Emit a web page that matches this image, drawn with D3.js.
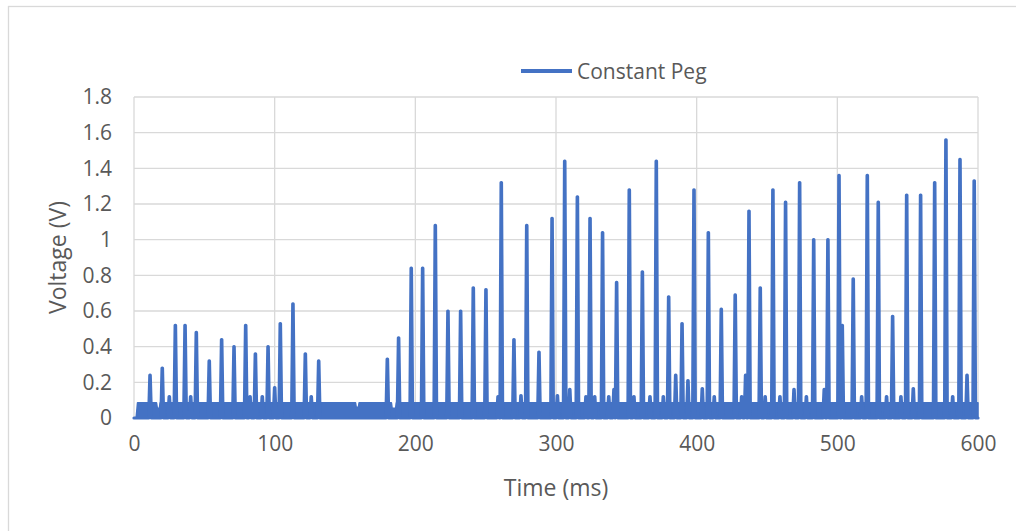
<!DOCTYPE html>
<html><head><meta charset="utf-8">
<script src="https://cdn.jsdelivr.net/npm/d3@7"></script>
<style>body{margin:0;background:#fff}svg{display:block}</style>
</head><body>
<svg id="c" width="1016" height="531"></svg>
<script>
// ---- data ----
const seriesName = "Constant Peg";
const xTickValues = [0, 100, 200, 300, 400, 500, 600];
const yTickValues = [0, 0.2, 0.4, 0.6, 0.8, 1, 1.2, 1.4, 1.6, 1.8];
const yTickLabels = ["0", "0.2", "0.4", "0.6", "0.8", "1", "1.2", "1.4", "1.6", "1.8"];
const xTitle = "Time (ms)";
const yTitle = "Voltage (V)";

// spike times (ms) and peak voltages (V)
const peakTimes = [
  11.4, 20.1, 25.1, 29.4, 36.3, 40.3, 44.3, 53.5, 62.3, 71.1, 79.4, 82.5, 86.3, 91.2, 95.3, 100, 104, 113, 121.8, 126, 131.3,
  180.1, 188.1, 197.1, 205.2, 214.2, 223.2, 232.2, 241.2, 250.2, 258.8, 261.1, 270.1, 275.1, 279.2, 287.9, 297.2, 301, 306.2, 309.8,
  315.2, 321.3, 324.2, 327.5, 333.1, 337.5, 341.2, 343.1, 352.1, 355.4, 361.4, 366.8, 371.3, 376.3, 380.1, 385.1, 389.6, 393.8,
  398.1, 404, 408.3, 412.5, 417.5, 427.4, 432, 434.8, 437.2, 445.2, 448.7, 454.2, 459.2, 463.2,
  469.2, 473.2, 478, 483.2, 490.7, 493.3, 501.2, 503.5, 511.3, 517.3, 521.3, 529.1, 535, 539.3, 545.2, 549.3, 554, 559.2,
  569.2, 577.2, 582, 587.2, 592.2, 597.3
];
const peakValues = [
  0.24, 0.28, 0.12, 0.52, 0.52, 0.12, 0.48, 0.32, 0.44, 0.40, 0.52, 0.12, 0.36, 0.12, 0.40, 0.17, 0.53, 0.64, 0.36, 0.12, 0.32,
  0.33, 0.45, 0.84, 0.84, 1.08, 0.60, 0.60, 0.73, 0.72, 0.12, 1.32, 0.44, 0.125, 1.08, 0.37, 1.12, 0.125, 1.44, 0.16,
  1.24, 0.12, 1.12, 0.12, 1.04, 0.12, 0.16, 0.76, 1.28, 0.12, 0.82, 0.12, 1.44, 0.12, 0.68, 0.24, 0.53, 0.21,
  1.28, 0.165, 1.04, 0.12, 0.61, 0.69, 0.12, 0.24, 1.16, 0.73, 0.12, 1.28, 0.12, 1.21,
  0.16, 1.32, 0.12, 1.0, 0.16, 1.0, 1.36, 0.52, 0.78, 0.12, 1.36, 1.21, 0.12, 0.57, 0.12, 1.25, 0.165, 1.25,
  1.32, 1.56, 0.12, 1.45, 0.24, 1.33
];

// upper edge of the dense low-level noise band (ms, V)
const bandTimes = [0, 1.5, 2.5, 16, 16.6, 18, 18.6, 157.5, 158, 159.5, 160, 183, 183.5, 186, 186.5, 600];
const bandTops  = [0, 0, 0.085, 0.085, 0.055, 0.055, 0.085, 0.085, 0.06, 0.06, 0.085, 0.085, 0.055, 0.055, 0.085, 0.085];

// ---- drawing ----
const W = 1016, H = 531;
const color = "#4472C4", gridColor = "#d9d9d9", textColor = "#595959";
const font = "'Open Sans', sans-serif";
const svg = d3.select("#c");

svg.append("rect").attr("x", 8.5).attr("y", 6.5).attr("width", W + 20).attr("height", H + 20)
  .attr("fill", "#fff").attr("stroke", gridColor).attr("stroke-width", 1.3);

const x = d3.scaleLinear().domain([0, 600]).range([134, 978]);
const y = d3.scaleLinear().domain([0, 1.8]).range([418, 97]);

// gridlines
svg.append("g").selectAll("line").data(yTickValues.filter(d => d > 0)).join("line")
  .attr("x1", x(0)).attr("x2", x(600)).attr("y1", d => y(d)).attr("y2", d => y(d))
  .attr("stroke", gridColor).attr("stroke-width", 1.3);
svg.append("g").selectAll("line").data(xTickValues).join("line")
  .attr("x1", d => x(d)).attr("x2", d => x(d)).attr("y1", y(0)).attr("y2", y(1.8))
  .attr("stroke", gridColor).attr("stroke-width", 1.3);

// axes labels via d3 axes (no domain / tick lines)
const yAxis = svg.append("g").attr("transform", `translate(${x(0)},0)`)
  .call(d3.axisLeft(y).tickValues(yTickValues).tickSize(0).tickPadding(22)
    .tickFormat((d, i) => yTickLabels[i]));
const xAxis = svg.append("g").attr("transform", `translate(0,${y(0)})`)
  .call(d3.axisBottom(x).tickValues(xTickValues).tickSize(0).tickPadding(18)
    .tickFormat(d3.format("d")));
[xAxis, yAxis].forEach(g => {
  g.select(".domain").remove();
  g.selectAll("text").attr("fill", textColor).style("font-family", font).style("font-size", "21px");
});

// noise band
const bandData = bandTimes.map((t, i) => [t, bandTops[i]]);
svg.append("path").datum(bandData)
  .attr("d", d3.area().x(d => x(d[0])).y0(y(0)).y1(d => y(d[1])))
  .attr("fill", color).attr("stroke", color).attr("stroke-width", 1.5).attr("stroke-linejoin", "round");

// spikes line
const pts = [[0, 0]];
peakTimes.forEach((t, i) => {
  pts.push([t - 1.0, 0], [t - 0.15, peakValues[i]], [t + 0.15, peakValues[i]], [t + 1.0, 0]);
});
pts.push([600, 0]);
svg.append("path").datum(pts)
  .attr("d", d3.line().x(d => x(d[0])).y(d => y(d[1])))
  .attr("fill", "none").attr("stroke", color).attr("stroke-width", 3.2)
  .attr("stroke-linejoin", "round").attr("stroke-linecap", "round");

// titles
svg.append("text").attr("x", (x(0) + x(600)) / 2).attr("y", 496).attr("text-anchor", "middle")
  .attr("fill", textColor).style("font-family", font).style("font-size", "23px").text(xTitle);
svg.append("text").attr("transform", `translate(66,${(y(0) + y(1.8)) / 2}) rotate(-90)`)
  .attr("text-anchor", "middle").attr("fill", textColor)
  .style("font-family", font).style("font-size", "23px").text(yTitle);

// legend
svg.append("line").attr("x1", 521).attr("x2", 572).attr("y1", 71).attr("y2", 71)
  .attr("stroke", color).attr("stroke-width", 4);
svg.append("text").attr("x", 577).attr("y", 79).attr("fill", textColor)
  .style("font-family", font).style("font-size", "21px").text(seriesName);
</script>
</body></html>
